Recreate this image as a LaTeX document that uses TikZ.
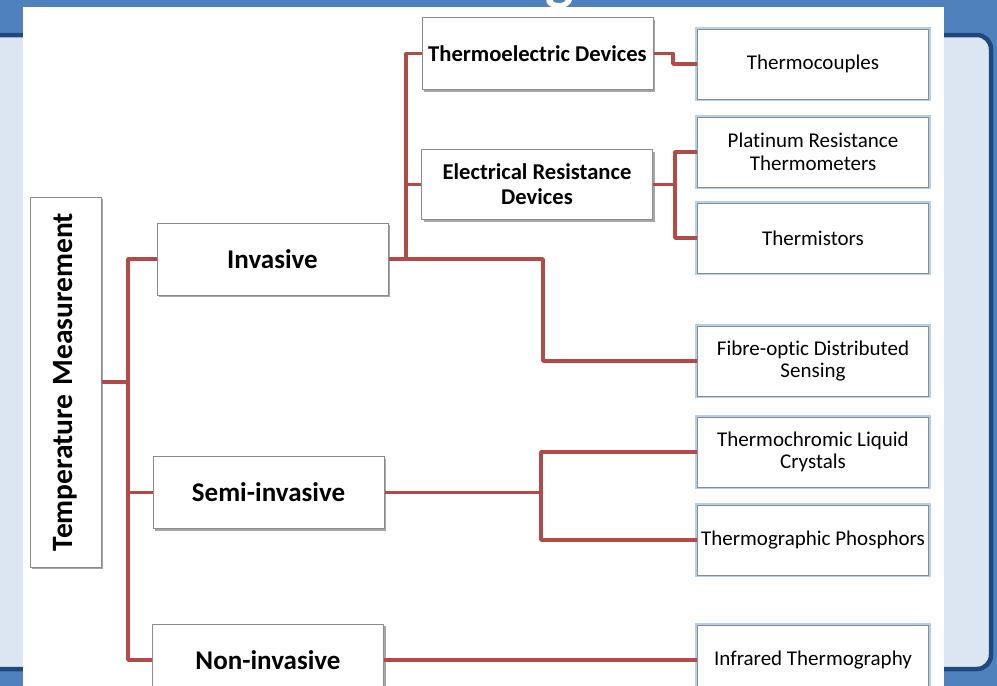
\documentclass[tikz,border=0pt]{standalone}
\usepackage{fontspec}
\setmainfont{Carlito}[Ligatures=NoCommon]
\usetikzlibrary{shadows}
\definecolor{topblue}{HTML}{4F81BD}
\definecolor{darkblue}{HTML}{1F497D}
\definecolor{paleblue}{HTML}{DCE6F2}
\definecolor{linkred}{HTML}{B34A48}
\definecolor{boxgray}{HTML}{8C8C8C}
\definecolor{glowblue}{HTML}{B3CFEE}
\begin{document}
\begin{tikzpicture}[x=1pt,y=-1pt,
  basebox/.style={fill=white, align=center, inner sep=2pt},
  leftbox/.style={basebox, draw=boxgray, line width=1pt,
    drop shadow={shadow xshift=2pt, shadow yshift=-2pt, fill=black, opacity=0.35},
    font=\fontsize{27}{30}\selectfont\bfseries, minimum width=231pt, minimum height=72pt},
  midbox/.style={leftbox, font=\fontsize{22.6}{25}\selectfont\bfseries},
  rightbox/.style={basebox, draw=boxgray, line width=1pt,
    preaction={draw=glowblue, line width=4.5pt},
    font=\fontsize{21}{22.5}\selectfont, minimum width=231pt, minimum height=70pt},
  link/.style={draw=linkred, line width=3.5pt, line join=round}]
\useasboundingbox (0,0) rectangle (997,686);
% slide background
\fill[topblue] (0,0) rectangle (997,686);
\filldraw[fill=paleblue, draw=darkblue, line width=4.5pt, rounded corners=14pt] (-30,35) rectangle (991,669);
\node[anchor=base, text=white, font=\fontsize{60}{60}\selectfont\bfseries, inner sep=0pt] (gfrag) at (560,-2) {g};
\fill[white] (23,7) rectangle (944,700);
% nodes
\node[leftbox, minimum width=71pt, minimum height=370pt, font=\fontsize{29.5}{31}\selectfont\bfseries] (tm) at (65.5,382)
  {\rotatebox{90}{Temperature\hspace{0.3em}Measurement}};
\node[leftbox] (inv) at (272.5,259) {Invasive};
\node[leftbox] (semi) at (268.5,492.5) {Semi-invasive};
\node[leftbox] (non) at (268,660) {Non-invasive};
\node[midbox] (te) at (537.5,53.5) {Thermoelectric Devices};
\node[midbox, minimum height=70pt] (er) at (537,184.5) {Electrical Resistance\\Devices};
\node[rightbox] (tc) at (813,64) {Thermocouples};
\node[rightbox] (pt) at (813,152) {Platinum Resistance\\Thermometers};
\node[rightbox] (ts) at (813,238) {Thermistors};
\node[rightbox] (fib) at (813,361) {Fibre-optic Distributed\\Sensing};
\node[rightbox] (tl) at (813,452) {Thermochromic Liquid\\Crystals};
\node[rightbox] (tp) at (813,540) {Thermographic Phosphors};
\node[rightbox] (ir) at (813,660) {Infrared Thermography};
% junctions
\coordinate (t1) at (128,382);
\coordinate (t2) at (406,259);
\coordinate (t3) at (543,259);
\coordinate (t4) at (673,0);
\coordinate (t5) at (675,184.5);
\coordinate (t6) at (541,492.5);
% connectors
\draw[link] (tm.east) -- (t1);
\draw[link] (inv.west) -| (t1) |- (non.west);
\draw[link] (semi.west) -- (semi.west -| t1);
\draw[link] (inv.east) -- (t2);
\draw[link] (te.west) -| (t2);
\draw[link] (er.west) -- (er.west -| t2);
\draw[link] (t2) -- (t3) |- (fib.west);
\draw[link] (te.east) -| (t4 |- tc.west) -- (tc.west);
\draw[link] (er.east) -- (t5);
\draw[link] (pt.west) -| (t5) |- (ts.west);
\draw[link] (semi.east) -- (t6);
\draw[link] (tl.west) -| (t6) |- (tp.west);
\draw[link] (non.east) -- (ir.west);
\end{tikzpicture}
\end{document}
